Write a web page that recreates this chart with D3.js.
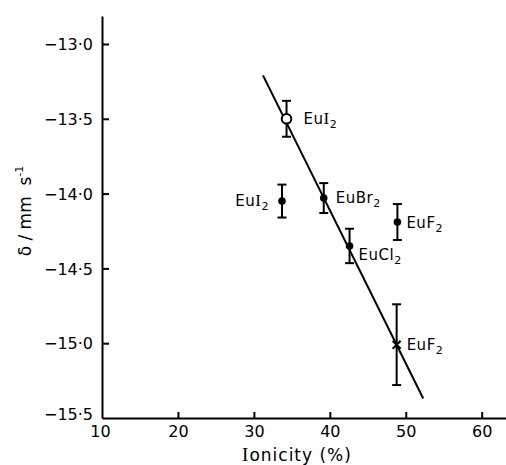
<!DOCTYPE html>
<html>
<head>
<meta charset="utf-8">
<script src="https://cdn.jsdelivr.net/npm/d3@7"></script>
<style>
  html, body { margin: 0; padding: 0; background: #fff; }
  svg { display: block; }
  text { font-family: "DejaVu Sans", sans-serif; fill: #000; white-space: pre; }
</style>
</head>
<body>
<svg id="chart" width="506" height="465"></svg>
<script>
// ---- data ----
const compounds = ["EuI", "EuI", "EuBr", "EuCl", "EuF", "EuF"];
const ionicity = [34.3, 33.7, 39.2, 42.6, 48.9, 48.8];
const delta = [-13.50, -14.05, -14.03, -14.35, -14.19, -15.01];
const deltaError = [0.12, 0.11, 0.10, 0.115, 0.12, 0.27];
const markerType = ["open", "filled", "filled", "filled", "filled", "cross"];
const fitIonicity = [31.2, 52.3];
const fitDelta = [-13.21, -15.37];
const xTicks = [10, 20, 30, 40, 50, 60];
const yTicks = [-13.0, -13.5, -14.0, -14.5, -15.0, -15.5];

// ---- layout ----
const svg = d3.select("#chart");
const x = d3.scaleLinear().domain([10, 63.2]).range([102, 506]);
const y = d3.scaleLinear().domain([-15.5, -12.813]).range([418, 16]);

// axes
const yAxis = d3.axisRight(y).tickValues(yTicks).tickSize(7).tickSizeOuter(0)
  .tickFormat(d => "−" + Math.abs(d).toFixed(1).replace(".", "·"));
const gy = svg.append("g").attr("transform", `translate(${x(10)},0)`).call(yAxis);
gy.select(".domain").attr("stroke-width", 2);
gy.selectAll(".tick line").attr("stroke-width", 2);
gy.selectAll(".tick text")
  .attr("x", -9).attr("text-anchor", "end").attr("font-size", 16)
  .attr("font-family", "DejaVu Sans").attr("dy", "0.36em");

const xAxis = d3.axisTop(x).tickValues(xTicks).tickSize(6).tickSizeOuter(0)
  .tickFormat(d3.format("d"));
const gx = svg.append("g").attr("transform", `translate(0,${y(-15.5)})`).call(xAxis);
gx.select(".domain").attr("stroke-width", 2);
gx.selectAll(".tick line").attr("stroke-width", 2);
gx.selectAll(".tick text")
  .attr("y", 19).attr("dy", 0).attr("font-size", 16)
  .attr("font-family", "DejaVu Sans");
gx.selectAll(".tick").filter(d => d === 10).select("text").attr("x", -2);

gy.selectAll(".tick").filter(d => d === -15.5).select("line").remove();
gy.selectAll(".tick").filter(d => d === -15.5).select("text").attr("dy", "0.1em");
gx.selectAll(".tick").filter(d => d === 10).select("line").remove();

// axis titles
const xt = svg.append("text")
  .attr("x", 297).attr("y", 461).attr("text-anchor", "middle")
  .attr("font-size", 17).attr("letter-spacing", 1);
xt.append("tspan").attr("font-family", "Liberation Serif").attr("font-size", 19).text("I");
xt.append("tspan").text("onicity (%)");

const yt = svg.append("text")
  .attr("transform", "translate(31,211) rotate(-90)")
  .attr("text-anchor", "middle").attr("font-size", 17);
yt.append("tspan").text("δ / mm  s");
yt.append("tspan").attr("font-size", 11).attr("dy", -8).text("-1");

// fit line
svg.append("line")
  .attr("x1", x(fitIonicity[0])).attr("y1", y(fitDelta[0]))
  .attr("x2", x(fitIonicity[1])).attr("y2", y(fitDelta[1]))
  .attr("stroke", "#000").attr("stroke-width", 2);

// points
const pts = compounds.map((c, i) => ({
  c, xi: ionicity[i], d: delta[i], e: deltaError[i], m: markerType[i], i
}));

const g = svg.append("g").selectAll("g").data(pts).join("g");
const cap = 4.5;
g.append("line")
  .attr("x1", d => x(d.xi)).attr("x2", d => x(d.xi))
  .attr("y1", d => y(d.d + d.e)).attr("y2", d => y(d.d - d.e))
  .attr("stroke", "#000").attr("stroke-width", 2);
g.append("line")
  .attr("x1", d => x(d.xi) - cap).attr("x2", d => x(d.xi) + cap)
  .attr("y1", d => y(d.d + d.e)).attr("y2", d => y(d.d + d.e))
  .attr("stroke", "#000").attr("stroke-width", 2);
g.append("line")
  .attr("x1", d => x(d.xi) - cap).attr("x2", d => x(d.xi) + cap)
  .attr("y1", d => y(d.d - d.e)).attr("y2", d => y(d.d - d.e))
  .attr("stroke", "#000").attr("stroke-width", 2);

g.filter(d => d.m === "filled").append("circle")
  .attr("cx", d => x(d.xi)).attr("cy", d => y(d.d)).attr("r", 3.8).attr("fill", "#000");
g.filter(d => d.m === "open").append("circle")
  .attr("cx", d => x(d.xi)).attr("cy", d => y(d.d)).attr("r", 4.8)
  .attr("fill", "#fff").attr("stroke", "#000").attr("stroke-width", 2);
g.filter(d => d.m === "cross").append("path")
  .attr("d", d => {
    const cx = x(d.xi), cy = y(d.d), s = 4;
    return `M${cx - s},${cy - s}L${cx + s},${cy + s}M${cx - s},${cy + s}L${cx + s},${cy - s}`;
  })
  .attr("stroke", "#000").attr("stroke-width", 2.2);

// labels (offsets in px relative to the marker)
const labelOffset = [[17, 0, "start"], [-13, 0, "end"], [12, 0, "start"], [9, 9, "start"], [9, 1, "start"], [10, 0, "start"]];
g.each(function(d) {
  const [dx, dy, anchor] = labelOffset[d.i];
  const t = d3.select(this).append("text")
    .attr("x", x(d.xi) + dx).attr("y", y(d.d) + dy + 5)
    .attr("text-anchor", anchor).attr("font-size", 15).attr("letter-spacing", 0.5);
  if (d.c === "EuI") {
    t.append("tspan").text("Eu");
    t.append("tspan").attr("font-family", "Liberation Serif").attr("font-size", 17).text("I");
  } else {
    t.append("tspan").text(d.c);
  }
  t.append("tspan").attr("font-size", 11).attr("dy", 4).text("2");
});
</script>
</body>
</html>
